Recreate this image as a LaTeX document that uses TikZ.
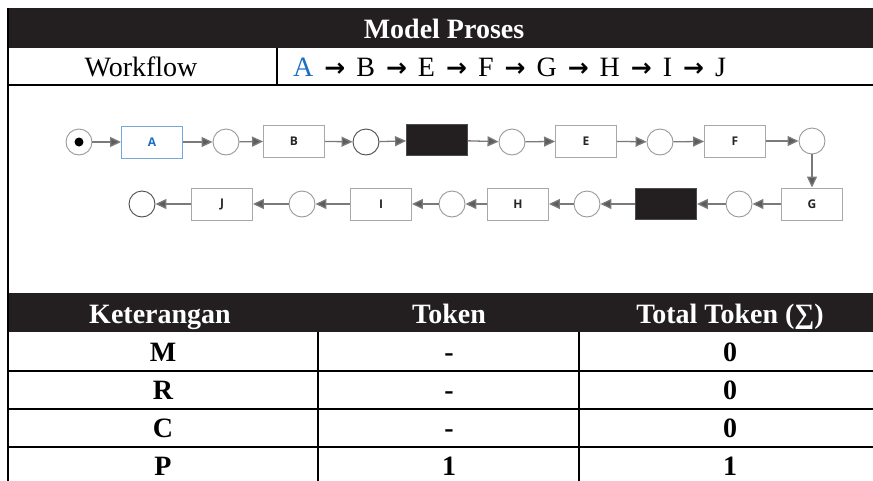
\documentclass[tikz,border=0pt]{standalone}
\usepackage{fontspec}
\setmainfont{Liberation Serif}
\newfontfamily\boxfont{Open Sans}
\newfontfamily\arrowfont{DejaVu Sans}
\usetikzlibrary{arrows.meta}
\definecolor{hdr}{HTML}{231F20}
\definecolor{ablue}{HTML}{1B6EC2}
\definecolor{boxgray}{HTML}{A8A8A8}
\definecolor{linegray}{HTML}{7A7A7A}
\definecolor{tipgray}{HTML}{5C5C5C}
\newcommand\wfarr{\hspace{11pt}{\arrowfont\bfseries\fontsize{25}{28}\selectfont →}\hspace{11pt}}
\begin{document}
\begin{tikzpicture}[x=1pt,y=-1pt,
  tbl/.style={line width=2pt,draw=black},
  hd/.style={text=white,font=\fontsize{28}{30}\selectfont\bfseries,inner sep=0pt,anchor=base},
  cell/.style={text=black,font=\fontsize{28}{30}\selectfont\bfseries,inner sep=0pt,anchor=base},
  wf/.style={text=black,font=\fontsize{28}{30}\selectfont,inner sep=0pt},
  trans/.style={draw=boxgray,line width=0.9pt,fill=white,minimum width=61pt,minimum height=32pt,inner sep=0pt,font=\boxfont\fontsize{12}{14}\selectfont\bfseries,text=black!85},
  blk/.style={draw=black!70,line width=0.9pt,fill=hdr,minimum width=61pt,minimum height=31pt,inner sep=0pt},
  place/.style={circle,draw=gray!80,line width=0.9pt,fill=white,minimum size=26pt,inner sep=0pt},
  dplace/.style={circle,draw=black!70,line width=0.9pt,fill=white,minimum size=26pt,inner sep=0pt},
  arr/.style={draw=linegray,line width=1.3pt,-{Triangle[length=11pt,width=10pt,fill=tipgray]}},
]
\useasboundingbox (0,0) rectangle (873,480);
\fill[white] (0,0) rectangle (873,480);
% ---------------- table frame ----------------
\fill[hdr] (8,8) rectangle (880,48);
\fill[hdr] (8,293) rectangle (880,332);
\draw[tbl] (8,8) -- (8,486);
\draw[tbl] (8,85) -- (880,85);
\draw[tbl] (277,48) -- (277,85);
\draw[tbl] (8,371) -- (880,371);
\draw[tbl] (8,409) -- (880,409);
\draw[tbl] (8,447) -- (880,447);
\draw[tbl] (318,332) -- (318,486);
\draw[tbl] (579,332) -- (579,486);
% ---------------- table texts ----------------
\node[hd] (title) at (444,38) {Model Proses};
\node[wf,anchor=base] (wflabel) at (141,76) {Workflow};
\node[wf,anchor=base west] (wfseq) at (293,76) {\textcolor{ablue}{A}\wfarr B\wfarr E\wfarr F\wfarr G\wfarr H\wfarr I\wfarr J};
\node[hd] (hket) at (160,323) {Keterangan};
\node[hd] (htok) at (449,323) {Token};
\node[hd] (htot) at (730,323) {Total Token (∑)};
\node[cell] (m1) at (163,361) {M};
\node[cell] (m2) at (449,361) {-};
\node[cell] (m3) at (730,361) {0};
\node[cell] (r1) at (163,399) {R};
\node[cell] (r2) at (449,399) {-};
\node[cell] (r3) at (730,399) {0};
\node[cell] (c1) at (163,437) {C};
\node[cell] (c2) at (449,437) {-};
\node[cell] (c3) at (730,437) {0};
\node[cell] (p1) at (163,475) {P};
\node[cell] (p2) at (449,475) {1};
\node[cell] (p3) at (730,475) {1};
% ---------------- petri net, row 1 ----------------
\node[place] (s0) at (79,142) {};
\fill[black] (s0.center) circle (4.5pt);
\node[trans,draw=ablue!60,text=ablue] (tA) at (152,142) {A};
\node[place] (s1) at (226,142) {};
\node[trans] (tB) at (294,141) {B};
\node[dplace] (s2) at (366,142) {};
\node[blk] (tK1) at (437,140) {};
\node[place] (s3) at (512,142) {};
\node[trans] (tE) at (586,141) {E};
\node[place] (s4) at (660,142) {};
\node[trans] (tF) at (735,141) {F};
\node[place] (s5) at (812,141) {};
% ---------------- petri net, row 2 ----------------
\node[trans] (tG) at (812,204) {G};
\node[place] (s6) at (739,204) {};
\node[blk] (tK2) at (666,204) {};
\node[place] (s7) at (587,204) {};
\node[trans] (tH) at (518,204) {H};
\node[place] (s8) at (452,204) {};
\node[trans] (tI) at (381,204) {I};
\node[place] (s9) at (302,204) {};
\node[trans] (tJ) at (222,204) {J};
\node[dplace] (s10) at (142,204) {};
% ---------------- arcs ----------------
\draw[arr] (s0) -- (tA);
\draw[arr] (tA) -- (s1);
\draw[arr] (s1) -- (tB);
\draw[arr] (tB) -- (s2);
\draw[arr] (s2) -- (tK1);
\draw[arr] (tK1) -- (s3);
\draw[arr] (s3) -- (tE);
\draw[arr] (tE) -- (s4);
\draw[arr] (s4) -- (tF);
\draw[arr] (tF) -- (s5);
\draw[arr] (s5) -- (tG);
\draw[arr] (tG) -- (s6);
\draw[arr] (s6) -- (tK2);
\draw[arr] (tK2) -- (s7);
\draw[arr] (s7) -- (tH);
\draw[arr] (tH) -- (s8);
\draw[arr] (s8) -- (tI);
\draw[arr] (tI) -- (s9);
\draw[arr] (s9) -- (tJ);
\draw[arr] (tJ) -- (s10);
\end{tikzpicture}
\end{document}
